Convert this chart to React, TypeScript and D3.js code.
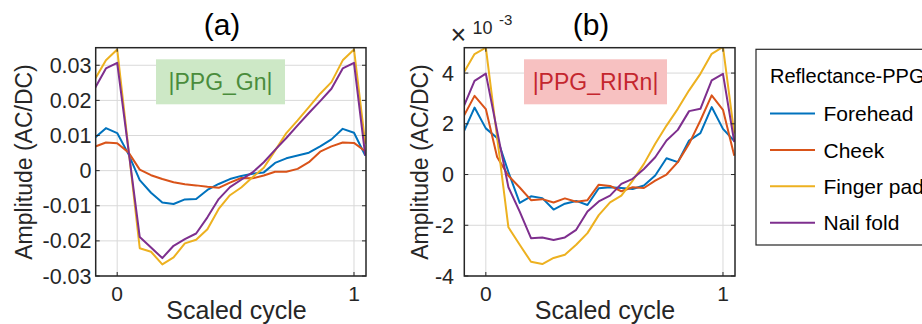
import React from 'react';
import * as d3 from 'd3';

const seriesNames = ['Forehead', 'Cheek', 'Finger pad', 'Nail fold'];
const seriesColors = ['#0072BD', '#D95319', '#EDB120', '#7E2F8E'];

// scaled-cycle sample grid (samples -2..22 of a 21-step cycle)
const cycleX = d3.range(-2, 23).map((k) => k / 21);

// Panel (a): |PPG_Gn|
const gnForehead = [0.0093, 0.0121, 0.0107, 0.0047, -0.0027, -0.0063, -0.0091, -0.0095, -0.0082, -0.0081, -0.0055, -0.0038, -0.0024, -0.0015, -0.0009, -0.0005, 0.0022, 0.0035, 0.0043, 0.0051, 0.0069, 0.0089, 0.0119, 0.0108, 0.0043];
const gnCheek = [0.0068, 0.008, 0.0078, 0.0052, 0.0003, -0.0013, -0.0024, -0.0033, -0.0039, -0.0042, -0.0046, -0.0049, -0.0034, -0.0021, -0.0022, -0.0014, -0.0003, -0.0003, 0.0005, 0.0024, 0.0054, 0.0069, 0.008, 0.0079, 0.0055];
const gnFinger = [0.0259, 0.0314, 0.0345, 0.0062, -0.0221, -0.0231, -0.0267, -0.0247, -0.0207, -0.0197, -0.0167, -0.0109, -0.007, -0.0048, -0.0019, 0.0008, 0.0057, 0.0107, 0.0143, 0.0181, 0.0219, 0.0252, 0.0314, 0.0345, 0.0076];
const gnNail = [0.0233, 0.0291, 0.0307, 0.0059, -0.0189, -0.0219, -0.0249, -0.0214, -0.0195, -0.0179, -0.0133, -0.0081, -0.0047, -0.0026, -0.0005, 0.0024, 0.0059, 0.0093, 0.0129, 0.0164, 0.0198, 0.0233, 0.0291, 0.0307, 0.0043];

// Panel (b): |PPG_RIRn| (x 10^-3)
const rirForehead = [1.64, 2.64, 1.82, 1.44, 0.1, -1.12, -0.86, -0.93, -1.38, -1.15, -1.04, -1.2, -0.54, -0.5, -0.53, -0.57, -0.43, -0.04, 0.64, 0.49, 1.34, 1.63, 2.66, 1.8, 1.32];
const rirCheek = [2.27, 3.1, 2.58, 0.69, -0.05, -0.51, -1.01, -0.97, -1.1, -0.94, -1.07, -1.01, -0.4, -0.45, -0.66, -0.5, -0.53, -0.24, 0.0, 0.49, 1.21, 2.13, 3.12, 2.55, 0.74];
const rirFinger = [3.98, 4.75, 5.0, 1.46, -2.08, -2.77, -3.44, -3.53, -3.29, -3.16, -2.77, -2.31, -1.6, -1.1, -0.83, -0.24, 0.42, 1.21, 1.93, 2.59, 3.32, 3.97, 4.76, 5.03, 1.61];
const rirNail = [2.64, 3.69, 3.98, 1.72, -0.5, -1.46, -2.51, -2.48, -2.58, -2.48, -2.18, -1.46, -1.06, -0.83, -0.37, -0.17, 0.22, 0.68, 1.34, 1.76, 2.5, 2.59, 3.71, 3.97, 1.28];

const yTicksA = [0.03, 0.02, 0.01, 0, -0.01, -0.02, -0.03];
const yTickLabelsA = ['0.03', '0.02', '0.01', '0', '-0.01', '-0.02', '-0.03'];
const yTicksB = [4, 2, 0, -2, -4];
const yTickLabelsB = ['4', '2', '0', '-2', '-4'];
const xTicks = [0, 1];
const xTickLabels = ['0', '1'];

const FONT = "'Liberation Sans', Arial, Helvetica, sans-serif";
const TXT = '#262626';

type PanelProps = {
  id: string;
  left: number;
  right: number;
  top: number;
  bottom: number;
  yDomain: [number, number];
  series: number[][];
  yTicks: number[];
  yTickLabels: string[];
  title: string;
  titleX: number;
  yLabelX: number;
  xLabelX: number;
  tickLabelRight: number;
  badge: string;
  badgeBox: [number, number, number, number];
  badgeFill: string;
  badgeColor: string;
};

function Panel(p: PanelProps) {
  const x = d3.scaleLinear().domain([-0.0908, 1.0507]).range([p.left, p.right]);
  const y = d3.scaleLinear().domain(p.yDomain).range([p.bottom, p.top]);
  const line = d3
    .line<number>()
    .x((_, i) => x(cycleX[i]))
    .y((d) => y(d));
  const clipId = 'clip-' + p.id;
  const tl = 4;
  return (
    <g>
      <defs>
        <clipPath id={clipId}>
          <rect x={p.left} y={p.top} width={p.right - p.left} height={p.bottom - p.top} />
        </clipPath>
      </defs>
      <rect x={p.left} y={p.top} width={p.right - p.left} height={p.bottom - p.top} fill="#fff" />
      {/* grid */}
      {p.yTicks.map((t) => (
        <line key={'gy' + t} x1={p.left} x2={p.right} y1={y(t)} y2={y(t)} stroke="#d9d9d9" strokeWidth={1} />
      ))}
      {xTicks.map((t) => (
        <line key={'gx' + t} x1={x(t)} x2={x(t)} y1={p.top} y2={p.bottom} stroke="#d9d9d9" strokeWidth={1} />
      ))}
      {/* badge */}
      <rect
        x={p.badgeBox[0]}
        y={p.badgeBox[1]}
        width={p.badgeBox[2]}
        height={p.badgeBox[3]}
        fill={p.badgeFill}
      />
      <text
        x={p.badgeBox[0] + p.badgeBox[2] / 2}
        y={p.badgeBox[1] + p.badgeBox[3] / 2 + 8.5}
        textAnchor="middle"
        fontFamily={FONT}
        fontSize={23}
        fill={p.badgeColor}
      >
        {p.badge}
      </text>
      {/* series */}
      <g clipPath={`url(#${clipId})`}>
        {p.series.map((s, i) => (
          <path key={i} d={line(s) || ''} fill="none" stroke={seriesColors[i]} strokeWidth={2} strokeLinejoin="round" />
        ))}
      </g>
      {/* ticks */}
      {p.yTicks.map((t) => (
        <g key={'ty' + t}>
          <line x1={p.left} x2={p.left + tl} y1={y(t)} y2={y(t)} stroke={TXT} strokeWidth={1} />
          <line x1={p.right} x2={p.right - tl} y1={y(t)} y2={y(t)} stroke={TXT} strokeWidth={1} />
        </g>
      ))}
      {xTicks.map((t) => (
        <g key={'tx' + t}>
          <line x1={x(t)} x2={x(t)} y1={p.bottom} y2={p.bottom - tl} stroke={TXT} strokeWidth={1} />
          <line x1={x(t)} x2={x(t)} y1={p.top} y2={p.top + tl} stroke={TXT} strokeWidth={1} />
        </g>
      ))}
      {/* box */}
      <rect
        x={p.left}
        y={p.top}
        width={p.right - p.left}
        height={p.bottom - p.top}
        fill="none"
        stroke={TXT}
        strokeWidth={1.5}
      />
      {/* tick labels */}
      {p.yTicks.map((t, i) => (
        <text
          key={'ly' + t}
          x={p.tickLabelRight}
          y={y(t) + 7.5}
          textAnchor="end"
          fontFamily={FONT}
          fontSize={21.5}
          fill={TXT}
        >
          {p.yTickLabels[i]}
        </text>
      ))}
      {xTicks.map((t, i) => (
        <text key={'lx' + t} x={x(t)} y={301} textAnchor="middle" fontFamily={FONT} fontSize={21} fill={TXT}>
          {xTickLabels[i]}
        </text>
      ))}
      {/* labels */}
      <text x={p.xLabelX} y={319} textAnchor="middle" fontFamily={FONT} fontSize={25} fill={TXT}>
        Scaled cycle
      </text>
      <text
        transform={`translate(${p.yLabelX},162) rotate(-90)`}
        textAnchor="middle"
        fontFamily={FONT}
        fontSize={23}
        fill={TXT}
      >
        Amplitude (AC/DC)
      </text>
      <text x={p.titleX} y={34.5} textAnchor="middle" fontFamily={FONT} fontSize={30} fill="#000">
        {p.title}
      </text>
    </g>
  );
}

export default function App() {
  const legendTop = 49.3;
  return (
    <svg
      width={922}
      height={324}
      viewBox="0 0 922 324"
      style={{ position: 'absolute', left: 0, top: 0, display: 'block', background: '#fff' }}
    >
      <rect x={0} y={0} width={922} height={324} fill="#fff" />
      <Panel
        id="a"
        left={95.7}
        right={366}
        top={47.7}
        bottom={276}
        yDomain={[-0.03, 0.035]}
        series={[gnForehead, gnCheek, gnFinger, gnNail]}
        yTicks={yTicksA}
        yTickLabels={yTickLabelsA}
        title="(a)"
        titleX={222}
        yLabelX={32}
        xLabelX={236.5}
        tickLabelRight={91.5}
        badge="|PPG_Gn|"
        badgeBox={[156, 59.3, 129, 45]}
        badgeFill="#cde8c6"
        badgeColor="#4a8c3c"
      />
      <Panel
        id="b"
        left={464.3}
        right={735}
        top={47.7}
        bottom={276}
        yDomain={[-4, 5]}
        series={[rirForehead, rirCheek, rirFinger, rirNail]}
        yTicks={yTicksB}
        yTickLabels={yTickLabelsB}
        title="(b)"
        titleX={591}
        yLabelX={428}
        xLabelX={605}
        tickLabelRight={454}
        badge="|PPG_RIRn|"
        badgeBox={[524, 59.3, 143, 45]}
        badgeFill="#f7c1c1"
        badgeColor="#c4262e"
      />
      {/* exponent */}
      <text x={450.5} y={44} fontFamily={FONT} fontSize={27} fill={TXT}>
        ×
      </text>
      <text x={472.5} y={34} fontFamily={FONT} fontSize={18} fill={TXT}>
        10
      </text>
      <text x={499} y={24.5} fontFamily={FONT} fontSize={15} fill={TXT}>
        -3
      </text>
      {/* legend */}
      <rect x={756} y={legendTop} width={200} height={195.7} fill="#fff" stroke={TXT} strokeWidth={1.2} />
      <text x={770} y={83} fontFamily={FONT} fontSize={20} fill="#000">
        Reflectance-PPG
      </text>
      {seriesNames.map((name, i) => {
        const yy = 113.5 + i * 36.4;
        return (
          <g key={name}>
            <line x1={770} x2={815} y1={yy} y2={yy} stroke={seriesColors[i]} strokeWidth={2} />
            <text x={823.5} y={yy + 7.6} fontFamily={FONT} fontSize={21} fill="#000">
              {name}
            </text>
          </g>
        );
      })}
    </svg>
  );
}
